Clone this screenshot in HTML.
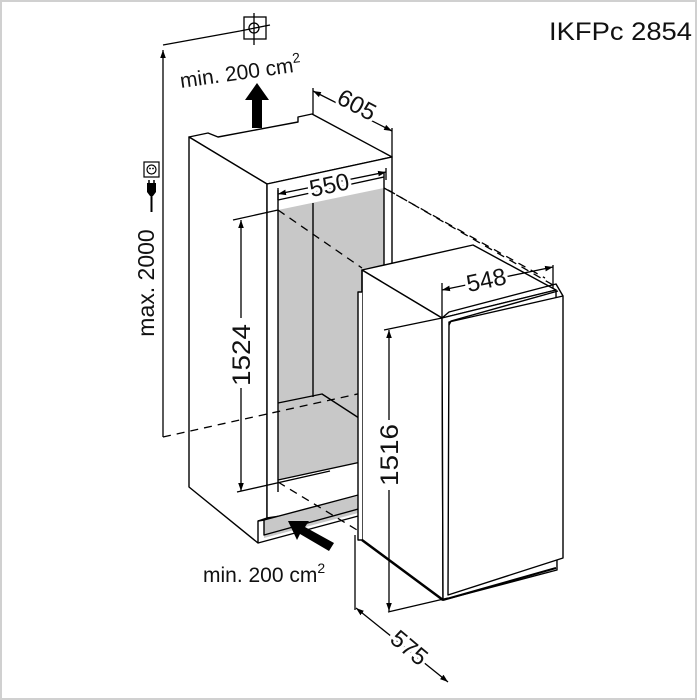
<!DOCTYPE html>
<html><head><style>
html,body{margin:0;padding:0;background:#fff}
svg{display:block}
text{font-family:"Liberation Sans",Arial,sans-serif;fill:#111}
</style></head><body>
<svg width="697" height="700" viewBox="0 0 697 700" xmlns="http://www.w3.org/2000/svg">
<defs>
<marker id="a" viewBox="0 0 10 10" refX="10" refY="5" markerWidth="8" markerHeight="8" orient="auto-start-reverse" markerUnits="userSpaceOnUse"><path d="M0,1.5 L10,5 L0,8.5 Z" fill="#000"/></marker>
</defs>
<rect x="1" y="1" width="695" height="698" fill="#fff" stroke="#d0d0d0" stroke-width="2"/>
<text x="549" y="40" font-size="25" textLength="143" lengthAdjust="spacingAndGlyphs">IKFPc 2854</text>

<g stroke="#000" stroke-width="1.4" fill="none" stroke-linejoin="round">
<path d="M189,137 L208,133 L218,137 L298,122 L298,117 L312,114 L392,157 L267,184 Z" fill="#fff"/>
<path d="M189,137 L267,184 L267,518 L258,521 L258,543 L189,487 Z" fill="#fff"/>
<path d="M267,184 L392,157 L392,500 L267,518 Z" fill="#fff"/>
<path d="M278,210 L384,188 L384,457 L278,480 Z" fill="#c8c8c8" stroke="none"/>
<path d="M278,200 L384,177" />
<path d="M278,190 L278,492"/>
<path d="M384,173 L384,500"/>
<path d="M313,203 L313,397"/>
<path d="M278,403 L322,394 L362,420" />
<path d="M278,480 L384,457"/>
<path d="M264,520 L264,538 L362,512 L362,495 Z" fill="#c8c8c8" stroke="none"/>
<path d="M258,521 L264,520 L362,494"/>
<path d="M258,543 L362,515"/>
<path d="M264,520 L264,535 L362,508"/>
</g>

<g stroke="#000" stroke-width="1.3" fill="none" stroke-dasharray="8,6">
<path d="M163,437 L362,393"/>
<path d="M278,210 L362,268"/>
<path d="M388,190 L553,285"/>
<path d="M384,188 L545,278"/>
<path d="M278,482 L362,533"/>
<path d="M390,290 L441,318"/>
</g>

<g stroke="#000" stroke-width="1.4" fill="#fff" stroke-linejoin="round">
<path d="M362,270 L473,245 L556,290 L442,318 Z"/>
<path d="M362,270 L442,318 L443,600 L362,540 Z"/>
<path d="M362,270 L362,292 L358,292 L358,540 L362,540"/>
<path d="M442,318 L556,290 L557,570 L443,600 Z"/>
<path d="M449,322 L448,595 L563,558 L563,296 Z"/>
<path d="M442,318 L449,312 L556,284 L563,296" fill="none"/>
<path d="M449,325 L451,321 L558,291" fill="none"/>
<path d="M362,540 L443,600" fill="none" stroke-width="2.5"/>
<path d="M443,600 L556,568" fill="none" stroke-width="2"/>
</g>

<g stroke="#000" stroke-width="1.3" fill="none">
<path d="M163,437 L163,50" marker-end="url(#a)"/>
<path d="M163,45 L240,31"/>
<path d="M313,88 L313,114"/>
<path d="M392,128 L392,157"/>
<path d="M313,91 L392,131" marker-start="url(#a)" marker-end="url(#a)"/>
<path d="M278,188 L278,200"/>
<path d="M386,168 L386,180"/>
<path d="M278,194 L386,172" marker-start="url(#a)" marker-end="url(#a)"/>
<path d="M233,220 L278,210"/>
<path d="M237,492 L330,471"/>
<path d="M241,220 L241,491" marker-start="url(#a)" marker-end="url(#a)"/>
<path d="M442,283 L442,318"/>
<path d="M553,265 L553,288"/>
<path d="M442,290 L553,267" marker-start="url(#a)" marker-end="url(#a)"/>
<path d="M384,330 L442,318"/>
<path d="M388,612 L448,598"/>
<path d="M389,330 L389,611" marker-start="url(#a)" marker-end="url(#a)"/>
<path d="M355,535 L355,610"/>
<path d="M356,608 L448,682" marker-start="url(#a)" marker-end="url(#a)"/>
</g>

<g fill="#fff" stroke="none">
<rect x="227" y="318" width="28" height="70"/>
<rect x="375" y="420" width="28" height="70"/>
<rect x="130" y="225" width="30" height="108"/>
</g>
<text x="0" y="0" font-size="25" transform="translate(250,355) rotate(-90)" text-anchor="middle" textLength="62" lengthAdjust="spacingAndGlyphs">1524</text>
<text x="0" y="0" font-size="25" transform="translate(398,455) rotate(-90)" text-anchor="middle" textLength="62" lengthAdjust="spacingAndGlyphs">1516</text>
<text x="0" y="0" font-size="23" transform="translate(154,283) rotate(-90)" text-anchor="middle">max. 2000</text>
<text x="0" y="0" font-size="24" transform="translate(353,112) rotate(28)" text-anchor="middle" stroke="#fff" stroke-width="6" paint-order="stroke">605</text>
<text x="0" y="0" font-size="24" transform="translate(331,193) rotate(-12)" text-anchor="middle" stroke="#fff" stroke-width="6" paint-order="stroke">550</text>
<text x="0" y="0" font-size="24" transform="translate(488,288) rotate(-12)" text-anchor="middle" stroke="#fff" stroke-width="6" paint-order="stroke">548</text>
<text x="0" y="0" font-size="24" transform="translate(404,654) rotate(40)" text-anchor="middle" stroke="#fff" stroke-width="6" paint-order="stroke">575</text>
<text x="0" y="0" font-size="21" transform="translate(181,88) rotate(-8)">min. 200 cm<tspan font-size="14" dy="-9">2</tspan></text>
<text x="203" y="582" font-size="21">min. 200 cm<tspan font-size="14" dy="-9">2</tspan></text>

<path d="M252,128 L252,100 L245,100 L257,83 L269,100 L262,100 L262,128 Z" fill="#000"/>
<path d="M329,551 L300,534 L297,540 L288,521 L309,521 L305,527 L334,543 Z" fill="#000"/>

<g stroke="#000" stroke-width="1.3" fill="none">
<rect x="244" y="17" width="22" height="22"/>
<circle cx="254" cy="28" r="5"/>
<path d="M240,31 L270,25 M254,13 L254,45"/>
</g>
<g stroke="#000" stroke-width="1.2" fill="none">
<rect x="144" y="162" width="15" height="15"/>
<circle cx="151.5" cy="169.5" r="4.5"/>
</g>
<circle cx="150" cy="168.5" r="0.9" fill="#000"/>
<circle cx="153" cy="168.5" r="0.9" fill="#000"/>
<path d="M147,183 L156,183 L156,192 L153,196 L150,196 L147,192 Z" fill="#000"/>
<path d="M149,180 L149,183 M154,180 L154,183" stroke="#000" stroke-width="1.5"/>
<path d="M151.5,196 L151.5,212" stroke="#000" stroke-width="2"/>
</svg>
</body></html>
